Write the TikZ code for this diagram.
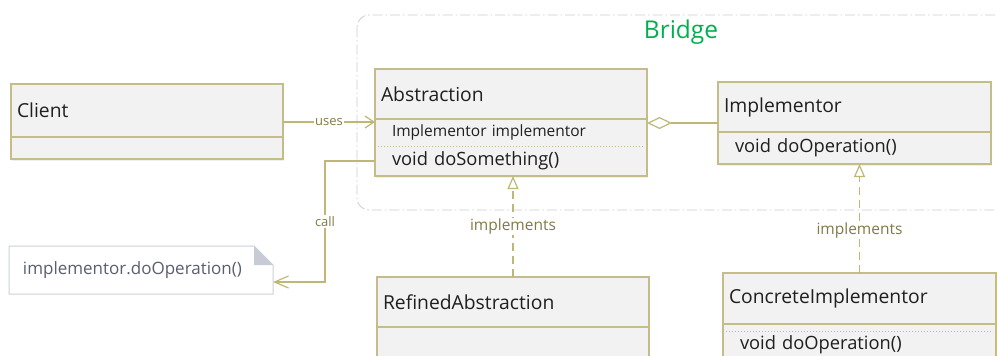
\documentclass[tikz,border=0pt]{standalone}
\usepackage{fontspec}
\setmainfont{Open Sans}
\usetikzlibrary{arrows.meta,positioning,shadows}
\definecolor{boxline}{RGB}{196,189,135}
\definecolor{boxfill}{RGB}{242,242,242}
\definecolor{linkcol}{RGB}{190,183,120}
\definecolor{labelcol}{RGB}{128,122,72}
\definecolor{framecol}{RGB}{205,205,205}
\definecolor{bridgegreen}{RGB}{0,176,80}
\definecolor{notefold}{RGB}{200,202,214}
\definecolor{noteline}{RGB}{205,208,220}
\definecolor{notetext}{RGB}{90,95,110}

\begin{document}
\begin{tikzpicture}[x=1pt,y=-1pt,>=Stealth,
 box/.style={draw=boxline,fill=boxfill,line width=1.5pt,outer sep=0pt,anchor=north west,align=left,inner ysep=0pt,text=black!88,
  drop shadow={opacity=0.12,shadow xshift=1pt,shadow yshift=-2pt}},
 head/.style={box,inner xsep=6pt,font=\fontsize{19.3}{22}\selectfont},
 body/.style={box,inner xsep=17pt,font=\fontsize{18.3}{22}\selectfont},
 bare/.style={body,draw=none},
 outline/.style={draw=boxline,line width=1.5pt},
 sep/.style={draw=boxline,line width=1pt,dotted},
 link/.style={draw=linkcol,line width=1.2pt},
 lbl/.style={fill=white,text=labelcol,inner sep=1pt,font=\fontsize{13}{15}\selectfont},
 realize/.style={link,dash pattern=on 8pt off 5pt,-{Triangle[fill=white,length=13pt,width=11pt]}},
 note/.style={fill=white,outer sep=0pt,anchor=north west,align=left,text=notetext,inner xsep=14pt,font=\fontsize{17}{20}\selectfont}]
\useasboundingbox (0,0) rectangle (997,356);
\clip (0,0) rectangle (997,356);
\draw[framecol,line width=0.8pt,rounded corners=12pt,dash pattern=on 10pt off 3pt on 1.5pt off 3pt] (357,15) rectangle (1020,210);
\node[text=bridgegreen,font=\fontsize{24.5}{28}\selectfont] (brg) at (681,32) {Bridge};
\node[head,text width=260pt,minimum height=53pt] (cl) at (11,84) {Client};
\node[body,text width=238pt,minimum height=22pt] (clb) at (cl.south west) {};
\node[head,text width=260pt,minimum height=50pt] (absh) at (375,69) {Abstraction};
\node[bare,text width=238pt,minimum height=27pt,font=\fontsize{15.5}{18}\selectfont] (absa) at (absh.south west) {Implementor implementor};
\node[bare,text width=238pt,minimum height=30pt] (absm) at (absa.south west) {void doSomething()};
\draw[outline] (absa.north west) rectangle (absm.south east);
\draw[sep] ([xshift=3pt]absa.south west) -- ([xshift=-3pt]absa.south east);
\node[head,text width=261pt,minimum height=50pt] (implh) at (718,82) {Implementor};
\node[body,text width=239pt,minimum height=32pt] (implm) at (implh.south west) {void doOperation()};
\node[head,text width=260pt,minimum height=50pt] (rah) at (377,277) {RefinedAbstraction};
\node[body,text width=238pt,minimum height=32pt] (rab) at (rah.south west) {};
\node[head,text width=261pt,minimum height=51pt] (cih) at (723,273) {ConcreteImplementor};
\node[bare,text width=239pt,minimum height=7pt] (cia) at (cih.south west) {};
\node[bare,text width=239pt,minimum height=28pt] (cim) at (cia.south west) {void doOperation()};
\draw[outline] (cia.north west) rectangle (cim.south east);
\draw[sep] ([xshift=3pt]cia.south west) -- ([xshift=-3pt]cia.south east);
\node[note,text width=236pt,minimum height=48pt] (nt) at (9,246) {implementor.doOperation()};
\draw[noteline,line width=1pt] (nt.south west) -- (nt.north west) -- ([xshift=-19pt]nt.north east) -- ([yshift=-19pt]nt.north east) -- (nt.south east) -- cycle;
\fill[notefold] ([xshift=-19pt]nt.north east) -- ([xshift=-19pt,yshift=-19pt]nt.north east) -- ([yshift=-19pt]nt.north east) -- cycle;
\draw[link,-{Straight Barb[length=9pt,width=12pt]}] ([yshift=-11.5pt]cl.east) -- ([yshift=-11.5pt]cl.east -| absh.west) node[lbl,midway]{uses};
\draw[link,{Diamond[fill=white,length=25pt,width=12pt]}-] ([yshift=9.5pt]absa.east) -- ([yshift=9.5pt]absa.east -| implh.west);
\draw[realize] (rah.north) -- (rah.north |- absm.south) node[lbl,pos=0.5,font=\fontsize{15.5}{18}\selectfont]{implements};
\draw[realize] (cih.north) -- (cih.north |- implm.south) node[lbl,pos=0.39,font=\fontsize{15.5}{18}\selectfont]{implements};
\coordinate (callx) at (325,0);
\coordinate (callend) at ([yshift=-12pt]nt.east);
\draw[link,-{Straight Barb[length=14pt,width=12pt]}] (absm.west) -- (absm.west -| callx) -- (callx |- callend) node[lbl,midway]{call} -- (callend);
\end{tikzpicture}
\end{document}
